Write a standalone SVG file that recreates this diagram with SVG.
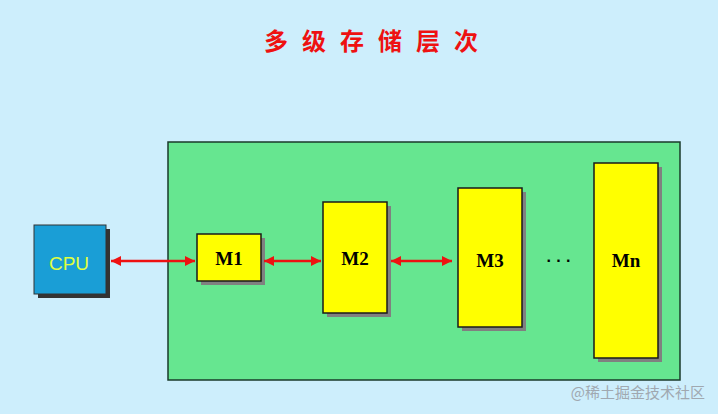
<svg xmlns="http://www.w3.org/2000/svg" width="718" height="414" viewBox="0 0 718 414">
<defs>
<style>
.box{fill:#ffff00;stroke:#1a1a1a;stroke-width:1.5}
.sh{fill:#808080}
.lbl{font-family:"Liberation Serif",serif;font-weight:bold;font-size:19px;text-anchor:middle;fill:#000}
.con{stroke:#ee1111;stroke-width:2.5;fill:none;marker-start:url(#a);marker-end:url(#a)}
</style>
<marker id="a" viewBox="0 0 10 10" refX="10" refY="5" markerWidth="5" markerHeight="4" orient="auto-start-reverse" markerUnits="strokeWidth"><path d="M0,0 L10,5 L0,10 z" fill="#ee1111"/></marker>
</defs>
<rect width="718" height="414" fill="#cdeefc"/>
<text x="378" y="50" font-family="'Noto Sans CJK SC',serif" font-size="24" font-weight="bold" fill="#ee1111" text-anchor="middle" letter-spacing="14">多级存储层次</text>
<rect x="168" y="142" width="512" height="238" fill="#66e690" stroke="#1a3a2a" stroke-width="1.5"/>
<g id="cpu"><rect x="38" y="229" width="72" height="69" fill="#333"/><rect x="34" y="225" width="72" height="69" fill="#1a9ed6" stroke="#333" stroke-width="1"/><text x="69" y="270" font-family="'Liberation Sans',sans-serif" font-size="19" fill="#e0ff40" text-anchor="middle">CPU</text></g>
<g id="m1"><rect class="sh" x="201" y="238" width="64" height="47"/><rect class="box" x="197" y="234" width="64" height="47"/><text class="lbl" x="229" y="265">M1</text></g>
<g id="m2"><rect class="sh" x="327" y="206" width="64" height="111"/><rect class="box" x="323" y="202" width="64" height="111"/><text class="lbl" x="355" y="265">M2</text></g>
<g id="m3"><rect class="sh" x="462" y="192" width="64" height="139"/><rect class="box" x="458" y="188" width="64" height="139"/><text class="lbl" x="490" y="267">M3</text></g>
<g id="mn"><rect class="sh" x="598" y="167" width="64" height="195"/><rect class="box" x="594" y="163" width="64" height="195"/><text class="lbl" x="626" y="267">Mn</text></g>
<text x="559" y="266" font-family="'Liberation Sans',sans-serif" font-size="16" font-weight="bold" text-anchor="middle">· · ·</text>
<g id="connectors">
<line class="con" x1="111" y1="261" x2="195" y2="261"/>
<line class="con" x1="264" y1="261" x2="321" y2="261"/>
<line class="con" x1="391" y1="261" x2="452" y2="261"/>
</g>
<text x="705" y="398" font-family="'Noto Sans CJK SC',sans-serif" font-size="15" fill="#a0a8b0" text-anchor="end">@稀土掘金技术社区</text>
</svg>
